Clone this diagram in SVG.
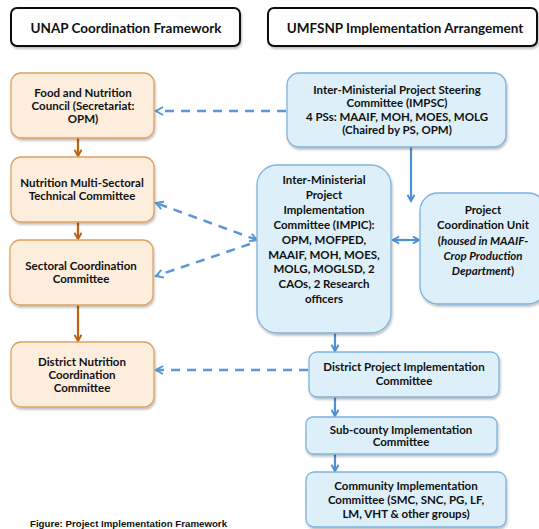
<svg xmlns="http://www.w3.org/2000/svg" width="539" height="529" viewBox="0 0 539 529">
<defs>
<style>
.t{font-family:Lato,"Open Sans","Liberation Sans",sans-serif;font-weight:bold;font-size:11.5px;fill:#111;text-anchor:middle}
.h{font-family:Lato,"Open Sans","Liberation Sans",sans-serif;font-weight:bold;font-size:13.5px;fill:#111;text-anchor:middle}
.hb{fill:#fff;stroke:#111;stroke-width:2}
.ob{fill:#FDEDDD;stroke:#E0A060;stroke-width:1.3}
.bb{fill:#DDF0FA;stroke:#7FB2DE;stroke-width:1.3}
.oa{stroke:#C0620F;stroke-width:2.2;fill:none}
.ba{stroke:#4F8FD3;stroke-width:2.2;fill:none}
.da{stroke:#5B97D8;stroke-width:2.5;fill:none;stroke-dasharray:9,7}
</style>
<filter id="sh" x="-10%" y="-10%" width="130%" height="130%"><feDropShadow dx="1" dy="2" stdDeviation="1.2" flood-color="#000" flood-opacity="0.25"/></filter>
<marker id="mo" viewBox="0 0 10 10" refX="8" refY="5" markerWidth="4" markerHeight="4" orient="auto-start-reverse" markerUnits="strokeWidth"><path d="M1,1 L8,5 L1,9" fill="none" stroke="#C0620F" stroke-width="2.2"/></marker>
<marker id="mb" viewBox="0 0 10 10" refX="8" refY="5" markerWidth="4" markerHeight="4" orient="auto-start-reverse" markerUnits="strokeWidth"><path d="M1,1 L8,5 L1,9" fill="none" stroke="#4F8FD3" stroke-width="2.2"/></marker>
<marker id="md" viewBox="0 0 10 10" refX="8" refY="5" markerWidth="4" markerHeight="4" orient="auto-start-reverse" markerUnits="strokeWidth"><path d="M1,1 L8,5 L1,9" fill="none" stroke="#5B97D8" stroke-width="2"/></marker>
</defs>
<rect width="539" height="529" fill="#fff"/>

<g id="hdr-left"><rect class="hb" x="11" y="8" width="229" height="38" rx="6" filter="url(#sh)"/><text class="h" x="126" y="33">UNAP Coordination Framework</text></g>
<g id="hdr-right"><rect class="hb" x="268" y="8" width="269" height="38" rx="6" filter="url(#sh)"/><text class="h" x="405" y="33">UMFSNP Implementation Arrangement</text></g>

<g id="connectors">
<line class="oa" x1="78" y1="138" x2="78" y2="156" marker-end="url(#mo)"/>
<line class="oa" x1="78" y1="222" x2="78" y2="239" marker-end="url(#mo)"/>
<line class="oa" x1="78" y1="305" x2="78" y2="341" marker-end="url(#mo)"/>
<line class="ba" x1="411" y1="147" x2="411" y2="201" marker-end="url(#mb)"/>
<line class="ba" x1="393" y1="240" x2="419" y2="240" marker-start="url(#mb)" marker-end="url(#mb)"/>
<line class="ba" x1="335" y1="333" x2="335" y2="351" marker-end="url(#mb)"/>
<line class="ba" x1="335" y1="397" x2="335" y2="416" marker-end="url(#mb)"/>
<line class="ba" x1="335" y1="454" x2="335" y2="471" marker-end="url(#mb)"/>
<line class="da" x1="286" y1="111" x2="156" y2="111" marker-end="url(#md)"/>
<line class="da" x1="257" y1="240" x2="156" y2="203" marker-start="url(#md)" marker-end="url(#md)"/>
<line class="da" x1="250" y1="244" x2="156" y2="276" marker-end="url(#md)"/>
<line class="da" x1="308" y1="370" x2="156" y2="370" marker-end="url(#md)"/>
</g>

<g id="food-council"><rect class="ob" x="11" y="73" width="143" height="65" rx="10" filter="url(#sh)"/>
<text class="t" x="83" y="97">Food and Nutrition</text><text class="t" x="83" y="110">Council (Secretariat:</text><text class="t" x="83" y="123">OPM)</text></g>
<g id="nmstc"><rect class="ob" x="11" y="157" width="143" height="65" rx="10" filter="url(#sh)"/>
<text class="t" x="82" y="187">Nutrition Multi-Sectoral</text><text class="t" x="82" y="200">Technical Committee</text></g>
<g id="scc"><rect class="ob" x="10" y="240" width="143" height="65" rx="10" filter="url(#sh)"/>
<text class="t" x="81" y="270">Sectoral Coordination</text><text class="t" x="81" y="283">Committee</text></g>
<g id="dncc"><rect class="ob" x="11" y="342" width="143" height="65" rx="10" filter="url(#sh)"/>
<text class="t" x="82" y="366">District Nutrition</text><text class="t" x="82" y="379">Coordination</text><text class="t" x="82" y="392">Committee</text></g>

<g id="impsc"><rect class="bb" x="287" y="73" width="219" height="74" rx="12" filter="url(#sh)"/>
<text class="t" x="397" y="94">Inter-Ministerial Project Steering</text><text class="t" x="397" y="107">Committee (IMPSC)</text><text class="t" x="397" y="121">4 PSs: MAAIF, MOH, MOES, MOLG</text><text class="t" x="397" y="134">(Chaired by PS, OPM)</text></g>
<g id="impic"><rect class="bb" x="257" y="165" width="134" height="168" rx="20" filter="url(#sh)"/>
<text class="t" x="324" y="184">Inter-Ministerial</text><text class="t" x="324" y="199">Project</text><text class="t" x="324" y="214">Implementation</text><text class="t" x="324" y="229">Committee (IMPIC):</text><text class="t" x="324" y="244">OPM, MOFPED,</text><text class="t" x="324" y="259">MAAIF, MOH, MOES,</text><text class="t" x="324" y="273">MOLG, MOGLSD, 2</text><text class="t" x="324" y="288">CAOs, 2 Research</text><text class="t" x="324" y="303">officers</text></g>
<g id="pcu"><rect class="bb" x="420" y="193" width="126" height="111" rx="18" filter="url(#sh)"/>
<text class="t" x="483" y="214">Project</text><text class="t" x="483" y="229">Coordination Unit</text><text class="t" x="483" y="245">(<tspan font-style="italic">housed in MAAIF-</tspan></text><text class="t" x="483" y="260" font-style="italic">Crop Production</text><text class="t" x="483" y="275"><tspan font-style="italic">Department</tspan>)</text></g>
<g id="dpic"><rect class="bb" x="309" y="352" width="190" height="45" rx="8" filter="url(#sh)"/>
<text class="t" x="404" y="371">District Project Implementation</text><text class="t" x="404" y="385">Committee</text></g>
<g id="scic"><rect class="bb" x="306" y="417" width="191" height="37" rx="7" filter="url(#sh)"/>
<text class="t" x="401" y="434">Sub-county Implementation</text><text class="t" x="401" y="446">Committee</text></g>
<g id="cic"><rect class="bb" x="306" y="472" width="200" height="55" rx="8" filter="url(#sh)"/>
<text class="t" x="406" y="490">Community Implementation</text><text class="t" x="406" y="504">Committee (SMC, SNC, PG, LF,</text><text class="t" x="406" y="518">LM, VHT &amp; other groups)</text></g>

<text x="30" y="527" font-family="'Liberation Sans',Arial,sans-serif" font-weight="bold" font-size="9.7" fill="#111">Figure: Project Implementation Framework</text>
</svg>
